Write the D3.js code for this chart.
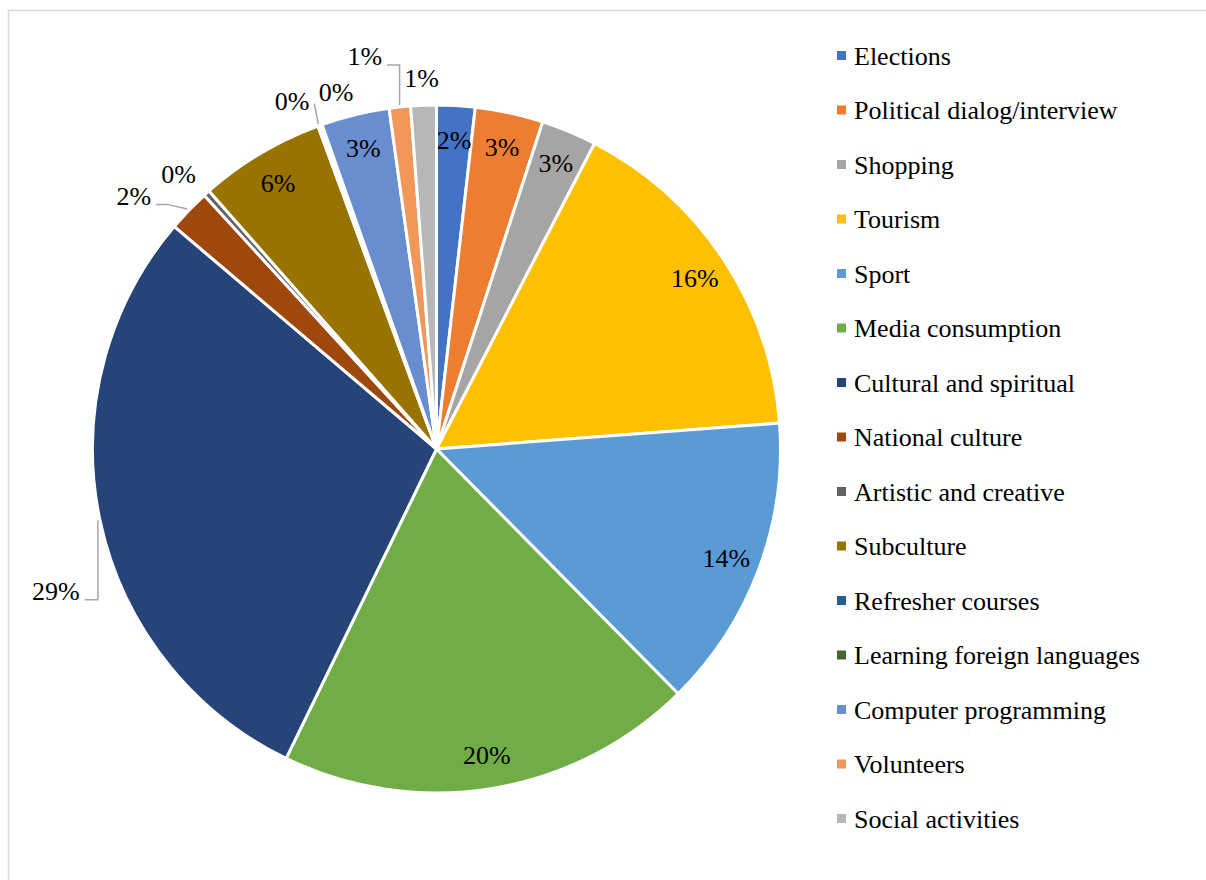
<!DOCTYPE html>
<html>
<head>
<meta charset="utf-8">
<script src="https://cdn.jsdelivr.net/npm/d3@7/dist/d3.min.js"></script>
<style>
  html, body { margin: 0; padding: 0; background: #fff; }
  svg { display: block; }
</style>
</head>
<body>
<svg id="chart" width="1206" height="880"></svg>
<script>
// Leisure interests, share of respondents (%)
const categories = [
  "Elections", "Political dialog/interview", "Shopping", "Tourism", "Sport",
  "Media consumption", "Cultural and spiritual", "National culture",
  "Artistic and creative", "Subculture", "Refresher courses",
  "Learning foreign languages", "Computer programming", "Volunteers",
  "Social activities"
];
const shares = [1.8, 3.2, 2.6, 16.2, 13.8, 19.6, 29.0, 2.0, 0.3, 5.9, 0.1, 0.1, 3.2, 1.0, 1.2];
const colors = [
  "#4472C4", "#ED7D31", "#A5A5A5", "#FFC000", "#5B9BD5", "#70AD47", "#264478",
  "#9E480E", "#636363", "#997300", "#255E91", "#43682B", "#698ED0", "#F1975A", "#B7B7B7"
];

// Labels that sit outside the pie: offset from the slice's rim point, and leader style
const outsideLabels = {
  "Cultural and spiritual":     { dx: -44, dy: 71, leader: "vertical" },
  "National culture":           { dx: -55, dy: -14, leader: "knee" },
  "Artistic and creative":      { dx: -28, dy: -19, leader: null },
  "Refresher courses":          { dx: -27, dy: -25, leader: "straight" },
  "Learning foreign languages": { dx: 15, dy: -33, leader: null },
  "Volunteers":                 { dx: -35, dy: -51, leader: "vertical" },
  "Social activities":          { dx: -2, dy: -27, leader: null }
};

const FONT = "'Liberation Serif', 'Times New Roman', Times, 'DejaVu Serif', serif";

const svg = d3.select("#chart")
  .attr("font-family", FONT)
  .style("font-family", FONT);
const W = 1206, H = 880;

// chart frame
svg.append("rect")
  .attr("x", 8.5).attr("y", 10.5)
  .attr("width", W + 50).attr("height", H + 50)
  .attr("fill", "none").attr("stroke", "#D9D9D9").attr("stroke-width", 1.5);

const cx = 436.5, cy = 449, R = 344;
const total = d3.sum(shares);
const data = categories.map((c, i) => ({ name: c, value: shares[i], color: colors[i] }));

const pie = d3.pie().sort(null).value(d => d.value);
const arcs = pie(data);
const arc = d3.arc().innerRadius(0).outerRadius(R);
const polar = (a, r) => [r * Math.sin(a), -r * Math.cos(a)];
const pct = d => Math.round(d.data.value / total * 100) + "%";

const g = svg.append("g").attr("transform", `translate(${cx},${cy})`);

g.selectAll("path.slice")
  .data(arcs)
  .join("path")
  .attr("class", "slice")
  .attr("d", arc)
  .attr("fill", d => d.data.color)
  .attr("stroke", "#fff")
  .attr("stroke-width", 3)
  .attr("stroke-linejoin", "round");

// inside labels
g.selectAll("text.inlabel")
  .data(arcs.filter(d => !outsideLabels[d.data.name]))
  .join("text")
  .attr("class", "inlabel")
  .attr("text-anchor", "middle")
  .attr("font-family", FONT)
  .attr("font-size", 26)
  .attr("fill", "#000")
  .attr("dy", "0.35em")
  .attr("x", d => polar((d.startAngle + d.endAngle) / 2, R * 0.9)[0])
  .attr("y", d => polar((d.startAngle + d.endAngle) / 2, R * 0.9)[1])
  .text(pct);

// outside labels with leader lines
arcs.filter(d => outsideLabels[d.data.name]).forEach(d => {
  const cfg = outsideLabels[d.data.name];
  const mid = (d.startAngle + d.endAngle) / 2;
  const rim = polar(mid, R);
  const lx = rim[0] + cfg.dx, ly = rim[1] + cfg.dy;
  const t = g.append("text")
    .attr("text-anchor", "middle")
    .attr("font-family", FONT)
    .attr("font-size", 26)
    .attr("fill", "#000")
    .attr("dy", "0.35em")
    .attr("x", lx).attr("y", ly)
    .text(pct(d));
  if (!cfg.leader) return;
  const w = t.node().getComputedTextLength();
  const start = polar(mid, R + 2);
  let pts;
  if (cfg.leader === "vertical") {
    const end = [lx + w / 2 + 5, ly + 9];
    pts = [start, [start[0], end[1]], end];
  } else if (cfg.leader === "knee") {
    const end = [lx + w / 2 + 5, ly + 8];
    pts = [start, [end[0] + 11, end[1]], end];
  } else {
    const end = [lx + w / 2 + 5, ly + 3];
    pts = [start, end];
  }
  g.append("path")
    .attr("d", d3.line()(pts))
    .attr("fill", "none")
    .attr("stroke", "#A6A6A6")
    .attr("stroke-width", 1.5);
});

// legend
const legend = svg.append("g").attr("transform", "translate(837,55.5)");
const rows = legend.selectAll("g.row")
  .data(data)
  .join("g")
  .attr("class", "row")
  .attr("transform", (d, i) => `translate(0,${i * 54.5})`);
rows.append("rect")
  .attr("x", 0).attr("y", -4.5)
  .attr("width", 9).attr("height", 9)
  .attr("fill", d => d.color);
rows.append("text")
  .attr("x", 17).attr("dy", "0.35em")
  .attr("font-family", FONT)
  .attr("font-size", 26)
  .attr("fill", "#000")
  .text(d => d.name);
</script>
</body>
</html>
